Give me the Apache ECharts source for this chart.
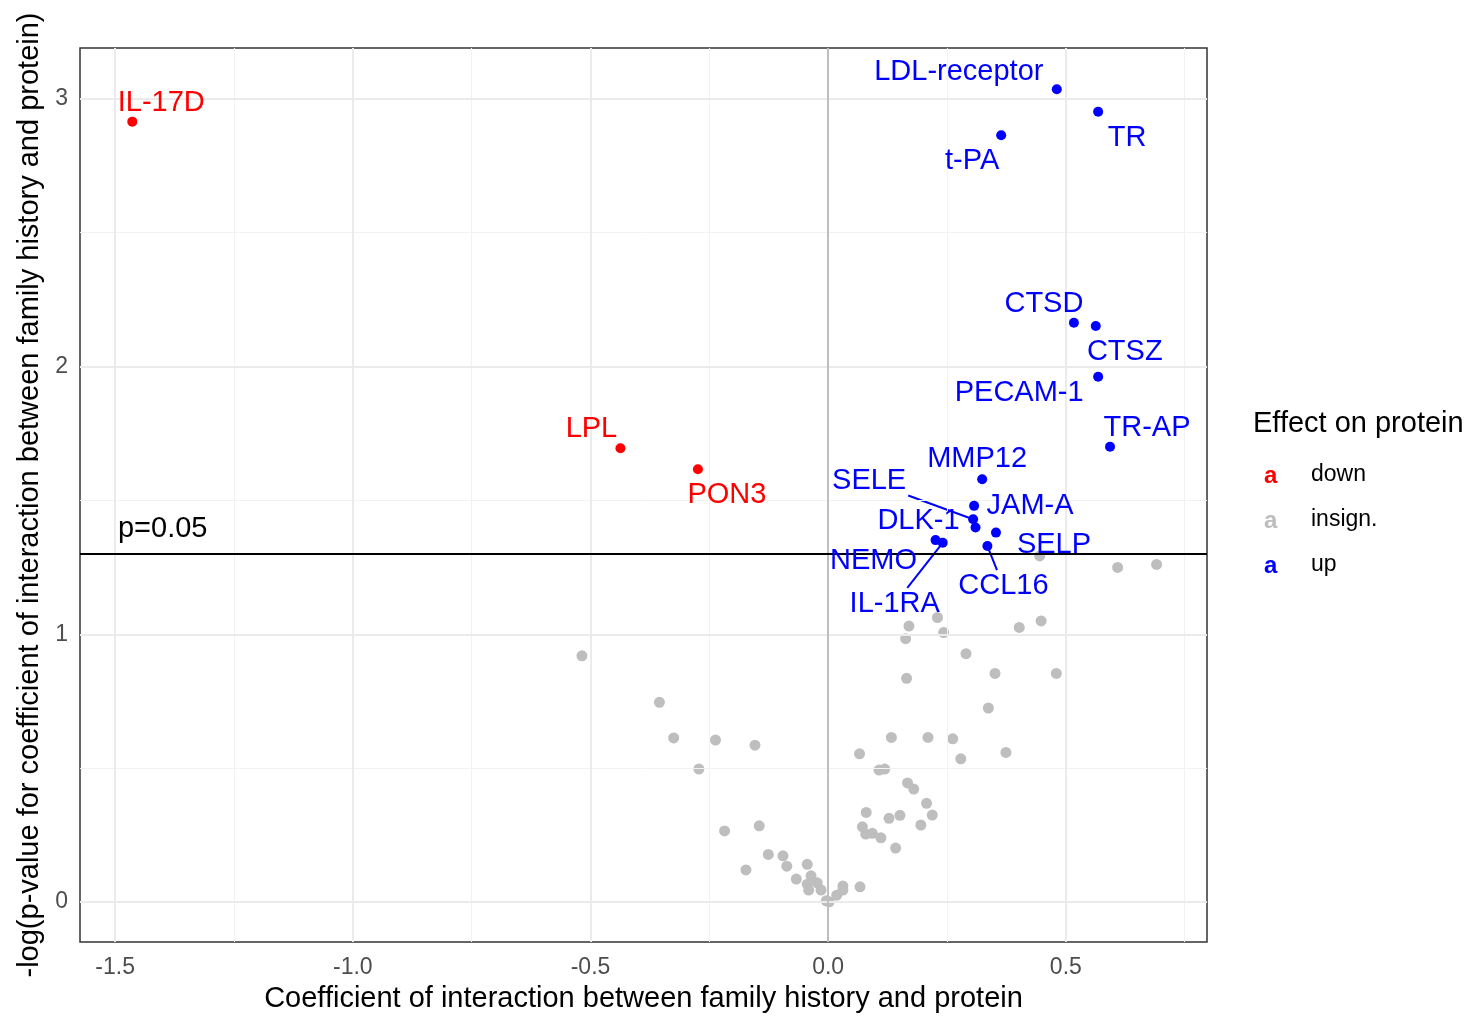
<!DOCTYPE html>
<html>
<head>
<meta charset="utf-8">
<title>Interaction volcano plot</title>
<script src="https://cdn.jsdelivr.net/npm/echarts@6/dist/echarts.min.js"></script>
<style>
  html, body { margin: 0; padding: 0; background: #fff; }
  #chart { width: 1468px; height: 1016px; }
</style>
</head>
<body>
<div id="chart"></div>
<script>
// proteins with a significant negative interaction
const downNames = ['IL-17D', 'LPL', 'PON3'];
const downX = [-1.464, -0.437, -0.274];
const downY = [2.915, 1.695, 1.617];

// proteins with a significant positive interaction
const upNames = ['LDL-receptor', 'TR', 't-PA', 'CTSD', 'CTSZ', 'PECAM-1', 'TR-AP', 'MMP12',
  'JAM-A', 'SELE', 'DLK-1', 'SELP', 'CCL16', 'NEMO', 'IL-1RA'];
const upX = [0.481, 0.568, 0.364, 0.517, 0.563, 0.568, 0.593, 0.324,
  0.307, 0.305, 0.310, 0.353, 0.335, 0.226, 0.241];
const upY = [3.036, 2.952, 2.864, 2.164, 2.152, 1.962, 1.701, 1.579,
  1.480, 1.430, 1.399, 1.380, 1.330, 1.352, 1.342];

// insignificant proteins
const insignX = [-0.518, -0.355, -0.325, -0.237, -0.154, -0.272, 0.066, -0.218, -0.145, -0.126,
  -0.095, -0.087, -0.173, -0.044, -0.067, -0.036, -0.044, -0.041, -0.023, -0.015,
  -0.004, 0.002, 0.018, 0.031, 0.031, 0.067, 0.080, 0.072, 0.079, 0.093,
  0.111, 0.142, 0.128, 0.151, 0.195, 0.219, 0.207, 0.167, 0.180, 0.107,
  0.119, 0.279, 0.374, 0.133, 0.210, 0.262, 0.337, 0.165, 0.351, 0.480,
  0.290, 0.163, 0.243, 0.170, 0.230, 0.402, 0.448, 0.445, 0.609, 0.691];
const insignY = [0.920, 0.746, 0.613, 0.605, 0.586, 0.497, 0.554, 0.266, 0.285, 0.178,
  0.173, 0.134, 0.120, 0.141, 0.086, 0.098, 0.067, 0.045, 0.072, 0.045,
  0.005, 0.001, 0.026, 0.060, 0.045, 0.057, 0.335, 0.281, 0.254, 0.257,
  0.240, 0.202, 0.313, 0.324, 0.288, 0.325, 0.369, 0.445, 0.422, 0.493,
  0.497, 0.535, 0.559, 0.615, 0.615, 0.610, 0.725, 0.836, 0.854, 0.854,
  0.928, 0.984, 1.007, 1.031, 1.063, 1.026, 1.050, 1.293, 1.250, 1.261];

// axis ticks and grid
const xMajor = [-1.5, -1.0, -0.5, 0.0, 0.5];
const xMinor = [-1.25, -0.75, -0.25, 0.25, 0.75];
const yMajor = [0, 1, 2, 3];
const yMinor = [0.5, 1.5, 2.5];
const pCut = -Math.log10(0.05);

const legendItems = ['down', 'insign.', 'up'];
const colors = { 'down': '#ff0000', 'insign.': '#bebebe', 'up': '#0000ff' };

// label offsets in pixels (repelled text), relative to the point
const nudge = {
  'IL-17D': [29, -21], 'LPL': [-29, -21], 'PON3': [29, 24],
  'LDL-receptor': [-98, -19], 'TR': [29, 24], 't-PA': [-29, 24],
  'CTSD': [-30, -21], 'CTSZ': [29, 24], 'PECAM-1': [-79, 14],
  'TR-AP': [37, -21], 'MMP12': [-5, -22], 'JAM-A': [56, -2],
  'SELE': [-104, -40], 'DLK-1': [-57, -9], 'SELP': [58, 10],
  'CCL16': [16, 38], 'NEMO': [-62, 19], 'IL-1RA': [-48, 59]
};
const withSegment = ['SELE', 'CCL16', 'IL-1RA'];
const LABEL_SHIFT = 2; // baseline correction

const FONT = '"Liberation Sans", Arial, sans-serif';
const LABEL_SIZE = 29;

const measureCtx = document.createElement('canvas').getContext('2d');
measureCtx.font = LABEL_SIZE + 'px ' + FONT;

function pts(xs, ys, names) {
  return xs.map((x, i) => (names ? { value: [x, ys[i]], name: names[i] } : { value: [x, ys[i]] }));
}

function labelledSeries(name, xs, ys, names) {
  const c = colors[name];
  return {
    name: name,
    type: 'scatter',
    z: 5,
    symbolSize: 10,
    itemStyle: { color: c, opacity: 1 },
    data: pts(xs, ys, names),
    label: {
      show: true,
      position: 'inside',
      formatter: (p) => p.name,
      color: c,
      fontSize: LABEL_SIZE,
      fontFamily: FONT,
      align: 'center',
      verticalAlign: 'middle'
    },
    labelLayout: (p) => {
      const o = nudge[names[p.dataIndex]];
      return { dx: o[0], dy: o[1] + LABEL_SHIFT };
    },
    emphasis: { disabled: true },
    animation: false
  };
}

// segment from a point to its repelled label, clipped at the label box
function segmentItem(params, api) {
  const p = api.coord([api.value(0), api.value(1)]);
  const name = upNames[api.value(2)];
  const o = nudge[name];
  const dx = -o[0];
  const dy = -(o[1] + LABEL_SHIFT);
  const hw = measureCtx.measureText(name).width / 2 + 2;
  const hh = 16;
  const s = Math.min(dx ? hw / Math.abs(dx) : Infinity, dy ? hh / Math.abs(dy) : Infinity);
  const cx = p[0] + o[0];
  const cy = p[1] + o[1] + LABEL_SHIFT;
  const len = Math.hypot(dx, dy);
  return {
    type: 'line',
    shape: {
      x1: cx + s * dx, y1: cy + s * dy,
      x2: p[0] - (dx / len) * 3, y2: p[1] - (dy / len) * 3
    },
    style: { stroke: colors.up, lineWidth: 2 }
  };
}

function vLines(vals, color, width) {
  return vals.map((v) => ({ xAxis: v, lineStyle: { color: color, width: width, type: 'solid' } }));
}
function hLines(vals, color, width) {
  return vals.map((v) => ({ yAxis: v, lineStyle: { color: color, width: width, type: 'solid' } }));
}

const chart = echarts.init(document.getElementById('chart'), null, { renderer: 'canvas' });

const axisCommon = {
  type: 'value',
  splitLine: { show: false },
  axisLine: { show: false },
  axisTick: { show: true, length: 7, lineStyle: { color: '#333333', width: 1.5 } },
  axisLabel: { color: '#4d4d4d', fontSize: 23, fontFamily: FONT },
  nameTextStyle: { color: '#000', fontSize: 29, fontFamily: FONT }
};

const option = {
  backgroundColor: '#ffffff',
  animation: false,
  grid: {
    left: 80, right: 261, top: 48, bottom: 74,
    show: true, borderColor: '#333333', borderWidth: 1.5, backgroundColor: '#ffffff',
    outerBoundsMode: 'none'
  },
  xAxis: Object.assign({}, axisCommon, {
    min: -1.574, max: 0.797,
    name: 'Coefficient of interaction between family history and protein',
    nameLocation: 'middle', nameGap: 42,
    axisTick: Object.assign({}, axisCommon.axisTick, { customValues: xMajor }),
    axisLabel: Object.assign({}, axisCommon.axisLabel, {
      customValues: xMajor, margin: 14, formatter: (v) => v.toFixed(1)
    })
  }),
  yAxis: Object.assign({}, axisCommon, {
    min: -0.149, max: 3.19,
    name: '-log(p-value for coefficient of interaction between family history and protein)',
    nameLocation: 'middle', nameGap: 29, nameRotate: 90,
    axisTick: Object.assign({}, axisCommon.axisTick, { customValues: yMajor }),
    axisLabel: Object.assign({}, axisCommon.axisLabel, {
      customValues: yMajor, margin: 12, formatter: (v) => String(v)
    })
  }),
  series: [
    {
      // panel grid lines
      type: 'scatter', data: [], z: 1, silent: true,
      markLine: {
        silent: true, symbol: 'none', animation: false, label: { show: false },
        data: [].concat(
          vLines(xMinor, '#f2f2f2', 1), hLines(yMinor, '#f2f2f2', 1),
          vLines(xMajor, '#ebebeb', 2), hLines(yMajor, '#ebebeb', 2)
        )
      }
    },
    {
      name: 'insign.', type: 'scatter', z: 3, symbolSize: 11,
      itemStyle: { color: colors['insign.'], opacity: 1 },
      data: pts(insignX, insignY), emphasis: { disabled: true },
      markLine: {
        silent: true, symbol: 'none', animation: false, label: { show: false },
        data: vLines([0], '#bebebe', 2)
      }
    },
    {
      // significance threshold
      type: 'scatter', z: 4, symbolSize: 0, silent: true,
      itemStyle: { opacity: 1, color: '#000' },
      data: [{ value: [-1.4, 1.4], name: 'p=0.05' }],
      label: {
        show: true, position: 'inside', formatter: 'p=0.05', opacity: 1,
        color: '#000000', fontSize: 29, fontFamily: FONT, offset: [0, LABEL_SHIFT]
      },
      emphasis: { disabled: true },
      markLine: {
        silent: true, symbol: 'none', animation: false, label: { show: false },
        data: hLines([pCut], '#000000', 2)
      }
    },
    {
      // repel segments
      type: 'custom', z: 4, silent: true,
      renderItem: segmentItem,
      data: withSegment.map((n) => {
        const i = upNames.indexOf(n);
        return [upX[i], upY[i], i];
      })
    },
    labelledSeries('down', downX, downY, downNames),
    labelledSeries('up', upX, upY, upNames)
  ],
  graphic: [
    {
      type: 'text', left: 1253, top: 409,
      style: { text: 'Effect on protein', fill: '#000', fontSize: 29, fontFamily: FONT }
    }
  ].concat(legendItems.flatMap((name, i) => [
    {
      type: 'text', left: 1264, top: 464 + i * 45,
      style: { text: 'a', fill: colors[name], fontSize: 24, fontWeight: 'bold', fontFamily: FONT }
    },
    {
      type: 'text', left: 1311, top: 463 + i * 45,
      style: { text: name, fill: '#000', fontSize: 23, fontFamily: FONT }
    }
  ]))
};

chart.setOption(option);
</script>
</body>
</html>
